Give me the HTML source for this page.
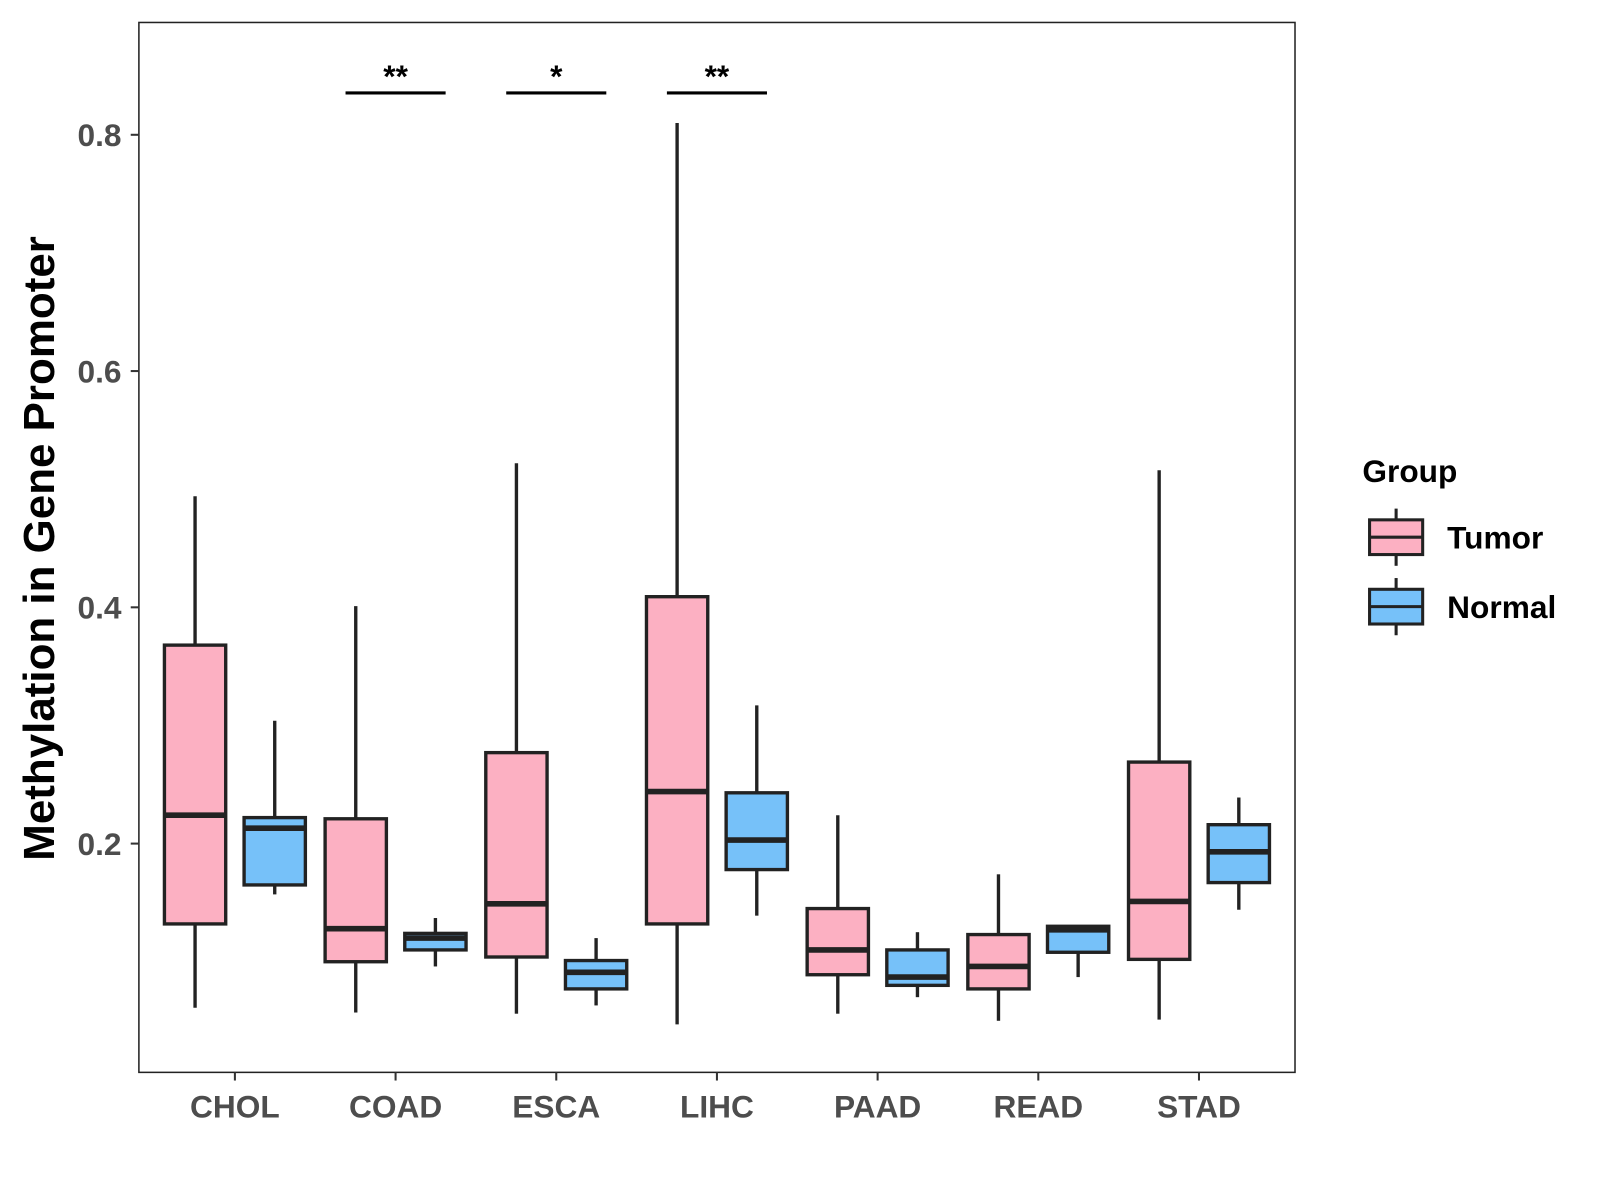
<!DOCTYPE html>
<html><head><meta charset="utf-8"><style>
html,body{margin:0;padding:0;background:#fff;width:1600px;height:1200px;overflow:hidden}
svg{display:block;font-family:"Liberation Sans",Arial,sans-serif}
</style></head><body>
<svg id="chart" width="1600" height="1200"><g id="root" transform="scale(1.0213)"></g></svg>
<script>
const categories=["CHOL","COAD","ESCA","LIHC","PAAD","READ","STAD"];
// [low whisker, Q1, median, Q3, high whisker]
const tumorStats=[[0.061,0.132,0.224,0.368,0.494],[0.057,0.100,0.128,0.221,0.401],[0.056,0.104,0.149,0.277,0.522],[0.047,0.132,0.244,0.409,0.810],[0.056,0.089,0.110,0.145,0.224],[0.050,0.077,0.096,0.123,0.174],[0.051,0.102,0.151,0.269,0.516]];
const normalStats=[[0.157,0.165,0.213,0.222,0.304],[0.096,0.110,0.120,0.124,0.137],[0.063,0.077,0.091,0.101,0.120],[0.139,0.178,0.203,0.243,0.317],[0.070,0.080,0.087,0.110,0.125],[0.087,0.108,0.127,0.130,0.131],[0.144,0.167,0.193,0.216,0.239]];
const yTicks=[0.2,0.4,0.6,0.8];
const sigLabels=[{cat:1,label:"**"},{cat:2,label:"*"},{cat:3,label:"**"}];
const NS="http://www.w3.org/2000/svg";
const svg=document.getElementById('root');
const PL=136,PR=1268,PT=22,PB=1050;
function y(v){return 826-(v-0.2)*1156.7;}
function x(i){return 230+i*157.33;}
function mk(t,a,p){const e=document.createElementNS(NS,t);for(const k in a)e.setAttribute(k,a[k]);(p||svg).appendChild(e);return e;}
const panel=mk('rect',{x:PL,y:PT,width:PR-PL,height:PB-PT,fill:'#fff',stroke:'#222','stroke-width':1.5});


yTicks.forEach(t=>{
 const g=mk('g',{});
 
 
 mk('line',{x1:128,x2:PL,y1:y(t),y2:y(t),stroke:'#333','stroke-width':2},g);
 const tx=mk('text',{x:119,y:y(t)+11,'text-anchor':'end','font-size':31,'font-weight':'bold',fill:'#4d4d4d'},g);
 tx.textContent=t.toFixed(1);
});
categories.forEach((c,i)=>{
 const g=mk('g',{});
 
 
 mk('line',{x1:x(i),x2:x(i),y1:PB,y2:PB+8,stroke:'#333','stroke-width':2},g);
 const tx=mk('text',{x:x(i),y:1094,'text-anchor':'middle','font-size':31,'font-weight':'bold',fill:'#4d4d4d'},g);
 tx.textContent=c;
});
function box(cx,s,fill,name){
 const g=mk('g',{});
 
 
 mk('line',{x1:cx,x2:cx,y1:y(s[0]),y2:y(s[1]),stroke:'#222','stroke-width':3.3},g);
 mk('line',{x1:cx,x2:cx,y1:y(s[3]),y2:y(s[4]),stroke:'#222','stroke-width':3.3},g);
 mk('rect',{x:cx-30,y:y(s[3]),width:60,height:y(s[1])-y(s[3]),fill:fill,stroke:'#222','stroke-width':3.3},g);
 mk('line',{x1:cx-30,x2:cx+30,y1:y(s[2]),y2:y(s[2]),stroke:'#222','stroke-width':5.5},g);
}
categories.forEach((c,i)=>{
 box(x(i)-39,tumorStats[i],'#FCB0C2','box-tumor-'+c.toLowerCase());
 box(x(i)+39,normalStats[i],'#76C1F9','box-normal-'+c.toLowerCase());
});
sigLabels.forEach(s=>{
 const g=mk('g',{});
 
 
 mk('line',{x1:x(s.cat)-49,x2:x(s.cat)+49,y1:91,y2:91,stroke:'#000','stroke-width':3},g);
 const t=mk('text',{x:x(s.cat),y:85,'text-anchor':'middle','font-size':31,'font-weight':'bold',fill:'#000'},g);
 t.textContent=s.label;
});
const yt=mk('text',{x:0,y:0,transform:'translate(53,537) rotate(-90)','text-anchor':'middle','font-size':43,'font-weight':'bold',fill:'#000'});


yt.textContent='Methylation in Gene Promoter';
const lg=mk('g',{});


const lt=mk('text',{x:1334,y:472,'font-size':31,'font-weight':'bold',fill:'#000'},lg);
lt.textContent='Group';
[['Tumor','#FCB0C2',526],['Normal','#76C1F9',594]].forEach(([n,f,cy])=>{
 const g=mk('g',{},lg);
 
 
 mk('line',{x1:1367,x2:1367,y1:cy-28,y2:cy+28,stroke:'#222','stroke-width':3},g);
 mk('rect',{x:1341,y:cy-17,width:52,height:34,fill:f,stroke:'#222','stroke-width':3},g);
 mk('line',{x1:1341,x2:1393,y1:cy,y2:cy,stroke:'#222','stroke-width':3},g);
 const t=mk('text',{x:1417,y:cy+11,'font-size':31,'font-weight':'bold',fill:'#000'},g);
 t.textContent=n;
});
</script>
</body></html>
